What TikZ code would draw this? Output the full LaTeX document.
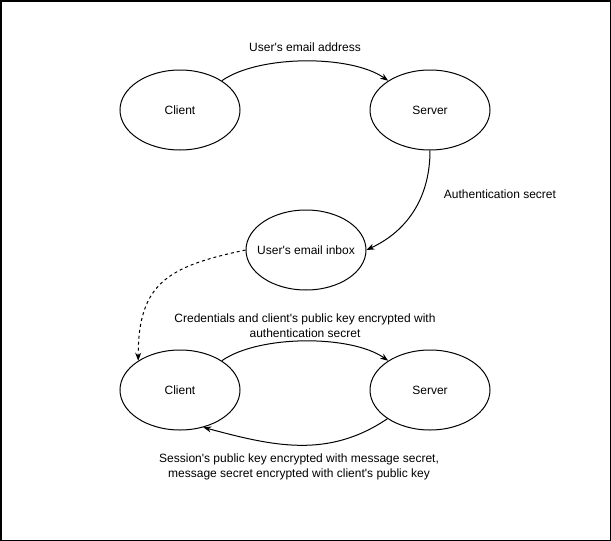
\documentclass[tikz,border=0pt]{standalone}
\usepackage{fontspec}
\setmainfont{Liberation Sans}[Ligatures=TeXOff]
\usetikzlibrary{shapes.geometric,arrows.meta}

\begin{document}
\begin{tikzpicture}[x=1pt,y=1pt,
    oval/.style={draw,ellipse,line width=1pt,minimum width=120pt,minimum height=80pt,inner xsep=-12pt,inner ysep=0pt},
    flow/.style={-{Stealth[length=8pt,width=6pt]},line width=1pt},
    every node/.append style={font=\fontsize{12}{15}\selectfont}]
        % Page is 611 x 541, origin top left, y runs negative.
        % Every oval is 120 x 80.
        % Top row at y = -110, inbox at y = -250, bottom row at y = -390.

        \useasboundingbox (0,0) rectangle (611,-541);
        \draw[line width=1.5pt] (0.75,-0.75) rectangle (610.25,-540.25);

        \node[oval] (c1) at (180,-110) {Client};
        \node[oval] (s1) at (430,-110) {Server};
        \node[oval] (inbox) at (306,-250) {User's email inbox};
        \node[oval] (c2) at (180,-390) {Client};
        \node[oval] (s2) at (430,-390) {Server};

        \draw[flow] (c1) to[out=35,in=145,looseness=0.7]
            node[above=6pt] (lbl1) {User's email address} (s1);
        \draw[flow] (s1.south) to[out=-90,in=25]
            node[pos=0.35,right=18pt] (lbl2) {Authentication secret} (inbox.east);
        \draw[flow,dash pattern=on 3pt off 3pt] (inbox.west) to[out=192,in=90,looseness=1.3] (c2.145);
        \draw[flow] (c2) to[out=35,in=145,looseness=0.7]
            node[above,align=center] (lbl3) {Credentials and client's public key encrypted with\\authentication secret} (s2);
        \draw[flow] (s2) to[out=214,in=-15]
            node[below=5pt,align=center] (lbl4) {Session's public key encrypted with message secret,\\message secret encrypted with client's public key} (c2.-58);

    \end{tikzpicture}
\end{document}
